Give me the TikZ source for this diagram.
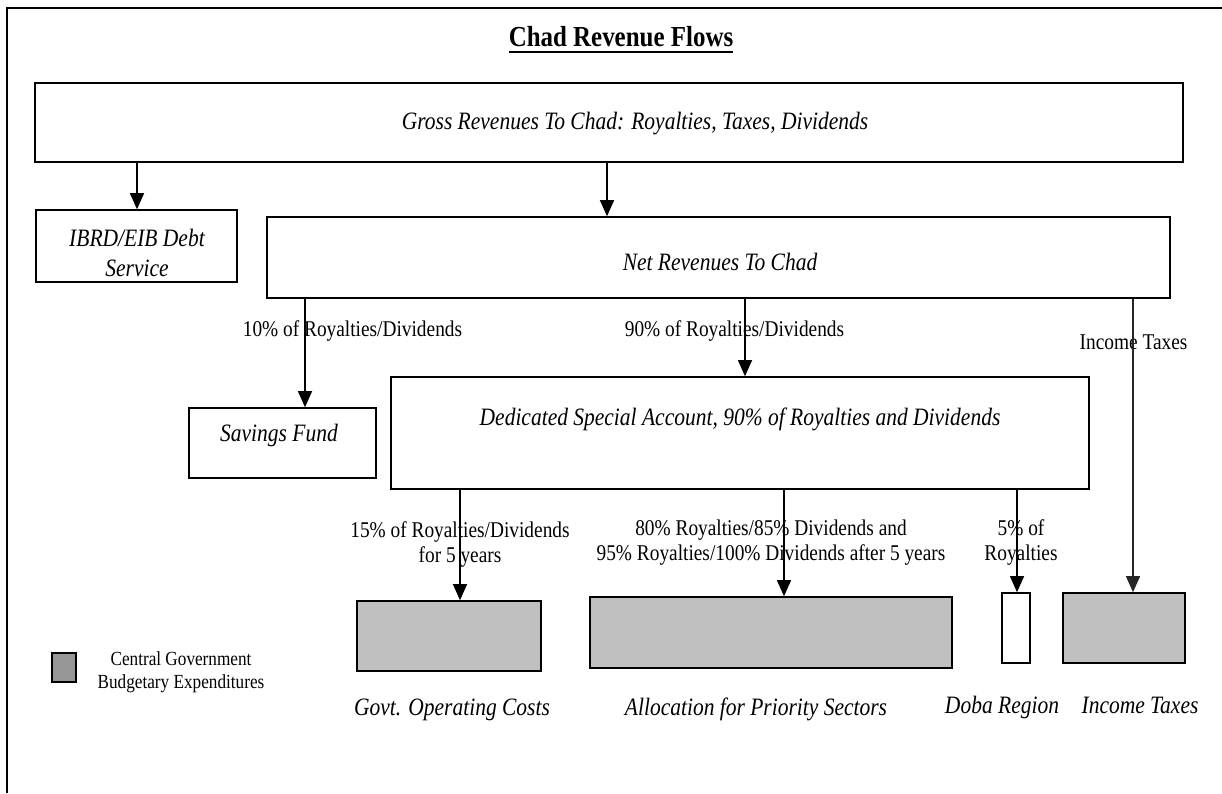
\documentclass[tikz,border=0pt]{standalone}
\usepackage{fontspec}
\setmainfont{Liberation Serif}[FakeStretch=0.86]
\usetikzlibrary{arrows.meta,calc}
\definecolor{boxgray}{HTML}{C0C0C0}
\definecolor{leggray}{HTML}{969696}
\begin{document}
\begin{tikzpicture}[x=1pt,y=-1pt,
  box/.style={draw=black,line width=1.6pt,inner sep=0pt,fill=white},
  gbox/.style={box,fill=boxgray},
  itl/.style={font=\fontsize{25}{30}\selectfont\itshape,inner sep=0pt,align=center},
  lbl/.style={font=\fontsize{22.5}{25}\selectfont,inner sep=0pt,align=center},
  arr/.style={line width=1.3pt,-{Triangle[length=16pt,width=14pt]}}]
\useasboundingbox (0,0) rectangle (1222,793);
% frame
\draw[line width=2.5pt] (1222,8) -- (7,8) -- (7,793);
% title
\node[font=\fontsize{29}{33}\selectfont\bfseries,inner sep=0pt,anchor=base] (title) at (621,46.5) {Chad Revenue Flows};
\draw[line width=2pt] ($(title.base west)+(0,5.5)$) -- ($(title.base east)+(0,5.5)$);
% boxes
\node[box,minimum width=1148pt,minimum height=79pt] (gross) at (609,122.5) {};
\node[itl] (grossT) at (635,124) {Gross Revenues To Chad: Royalties, Taxes, Dividends};
\node[box,minimum width=201pt,minimum height=72pt] (ibrd) at (136.5,246) {};
\node[itl] (ibrdT) at (137,253) {IBRD/EIB Debt\\Service};
\node[box,minimum width=903pt,minimum height=81pt] (net) at (718.5,257.5) {};
\node[itl] (netT) at (720,262) {Net Revenues To Chad};
\node[box,minimum width=187pt,minimum height=70pt] (sav) at (282.5,443) {};
\node[itl] (savT) at (279,435) {Savings Fund};
\node[box,minimum width=698pt,minimum height=112pt] (ded) at (740,433) {};
\node[itl] (dedT) at (740,419) {Dedicated Special Account, 90\% of Royalties and Dividends};
\node[gbox,minimum width=184pt,minimum height=70pt] (govt) at (449,636) {};
\node[gbox,minimum width=362pt,minimum height=71pt] (alloc) at (771,632.5) {};
\node[box,minimum width=28pt,minimum height=70pt] (doba) at (1016,628) {};
\node[gbox,minimum width=122pt,minimum height=70pt] (inc) at (1124,628) {};
% box captions
\node[itl] (govtT) at (452,710) {Govt. Operating Costs};
\node[itl] (allocT) at (756,709) {Allocation for Priority Sectors};
\node[itl] (dobaT) at (1002,707) {Doba Region};
\node[itl] (incT) at (1140,705) {Income Taxes};
% legend
\node[draw=black,line width=1.6pt,fill=leggray,minimum width=24pt,minimum height=29pt,inner sep=0pt] (leg) at (64,667.5) {};
\node[font=\fontsize{20}{23}\selectfont,inner sep=0pt,align=center] (legT) at (181,672.5) {Central Government\\Budgetary Expenditures};
% arrow labels
\node[lbl] (l10) at (352.5,331) {10\% of Royalties/Dividends};
\node[lbl] (l90) at (734.5,331) {90\% of Royalties/Dividends};
\node[lbl] (lInc) at (1133.5,342) {Income Taxes};
\node[lbl] (l15) at (460,544.5) {15\% of Royalties/Dividends\\for 5 years};
\node[lbl] (l80) at (771,542.5) {80\% Royalties/85\% Dividends and\\95\% Royalties/100\% Dividends after 5 years};
\node[lbl] (l5) at (1021,542) {5\% of\\Royalties};
% arrows
\draw[arr] (gross.south -| 137,0) -- (ibrd.north -| 137,0);
\draw[arr] (gross.south -| 607,0) -- (net.north -| 607,0);
\draw[arr] (net.south -| 305,0) -- (sav.north -| 305,0);
\draw[arr] (net.south -| 745,0) -- (ded.north -| 745,0);
\draw[arr,draw=black!85] (net.south -| 1133,0) -- (inc.north -| 1133,0);
\draw[arr] (ded.south -| 460,0) -- (govt.north -| 460,0);
\draw[arr] (ded.south -| 784,0) -- (alloc.north -| 784,0);
\draw[arr] (ded.south -| 1017,0) -- (doba.north -| 1017,0);
\end{tikzpicture}
\end{document}
